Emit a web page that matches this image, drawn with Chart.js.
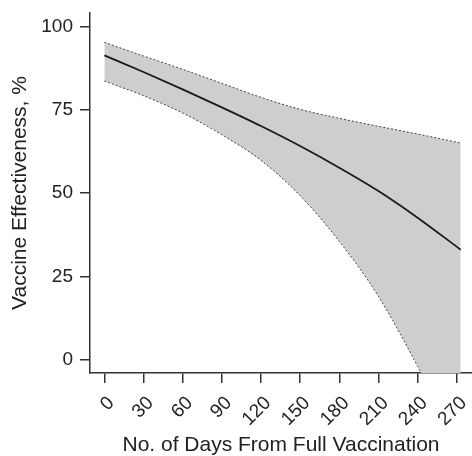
<!DOCTYPE html>
<html>
<head>
<meta charset="utf-8">
<script src="https://cdn.jsdelivr.net/npm/chart.js@4.4.1/dist/chart.umd.min.js"></script>
<style>
  html, body { margin: 0; padding: 0; background: #fff; }
  #wrap { width: 472px; height: 456px; position: relative; }
</style>
</head>
<body>
<div id="wrap"><canvas id="chart"></canvas></div>
<script>
// days since full vaccination
const days = [0, 30, 60, 90, 120, 150, 180, 210, 240, 273];
const effectiveness = [91.3, 86.3, 81.1, 75.7, 70.1, 64.1, 57.6, 50.6, 42.6, 33.0];
const upperCI = [95.2, 91.1, 87.1, 82.9, 78.7, 75.1, 72.4, 70.0, 67.7, 65.0];
const lowerCI = [83.6, 79.2, 74.0, 67.5, 59.8, 49.2, 35.5, 19.0, -2.0, -28.0];

const xTicks = [0, 30, 60, 90, 120, 150, 180, 210, 240, 270];
const yTicks = [0, 25, 50, 75, 100];

const axisColor = '#333333';
const textColor = '#222222';
const fontFamily = "'Liberation Sans', Arial, sans-serif";

function points(values) {
    return days.map((d, i) => ({ x: d, y: values[i] }));
}

const ctx = document.getElementById('chart').getContext('2d');
new Chart(ctx, {
    type: 'line',
    data: {
        datasets: [
            {
                label: 'Upper',
                data: points(upperCI),
                borderColor: '#444',
                borderWidth: 1,
                borderDash: [2, 2],
                backgroundColor: '#cdced0',
                fill: '+1',
                pointRadius: 0,
                cubicInterpolationMode: 'monotone',
                clip: 0,
                order: 2
            },
            {
                label: 'Lower',
                data: points(lowerCI),
                borderColor: '#444',
                borderWidth: 1,
                borderDash: [2, 2],
                fill: false,
                pointRadius: 0,
                cubicInterpolationMode: 'monotone',
                clip: 0,
                order: 1
            },
            {
                label: 'Vaccine effectiveness',
                data: points(effectiveness),
                borderColor: '#1a1a1a',
                borderWidth: 1.8,
                fill: false,
                pointRadius: 0,
                cubicInterpolationMode: 'monotone',
                clip: 0,
                order: 0
            }
        ]
    },
    options: {
        responsive: true,
        maintainAspectRatio: false,
        animation: false,
        layout: { padding: { top: 13, right: 0, left: 0, bottom: 0 } },
        plugins: {
            legend: { display: false },
            tooltip: { enabled: false }
        },
        scales: {
            x: {
                type: 'linear',
                min: -11,
                max: 281.7,
                afterBuildTicks: (scale) => { scale.ticks = xTicks.map(v => ({ value: v })); },
                afterFit: (scale) => {
                    scale.height = 83;
                    scale.paddingLeft = 0;
                    scale.paddingRight = 0;
                },
                grid: {
                    drawOnChartArea: false,
                    drawTicks: true,
                    tickLength: 10,
                    color: axisColor,
                    lineWidth: 1.5
                },
                border: { display: true, color: axisColor, width: 1.5 },
                ticks: {
                    autoSkip: false,
                    minRotation: 45,
                    maxRotation: 45,
                    padding: 9,
                    labelOffset: 7,
                    color: textColor,
                    font: { family: fontFamily, size: 19 }
                },
                title: {
                    display: true,
                    text: 'No. of Days From Full Vaccination',
                    color: textColor,
                    font: { family: fontFamily, size: 21, lineHeight: 1 },
                    padding: { top: 0, bottom: 0 }
                }
            },
            y: {
                min: -4,
                max: 104,
                afterBuildTicks: (scale) => { scale.ticks = yTicks.map(v => ({ value: v })); },
                afterFit: (scale) => {
                    scale.width = 90;
                    scale.paddingTop = 0;
                    scale.paddingBottom = 0;
                },
                grid: {
                    drawOnChartArea: false,
                    drawTicks: true,
                    tickLength: 10,
                    color: axisColor,
                    lineWidth: 1.5
                },
                border: { display: true, color: axisColor, width: 1.5 },
                ticks: {
                    padding: 7,
                    color: textColor,
                    font: { family: fontFamily, size: 19 }
                },
                title: {
                    display: true,
                    text: 'Vaccine Effectiveness, %',
                    color: textColor,
                    font: { family: fontFamily, size: 21, lineHeight: 1 },
                    padding: { top: 10, bottom: 0 }
                }
            }
        }
    }
});
</script>
</body>
</html>
